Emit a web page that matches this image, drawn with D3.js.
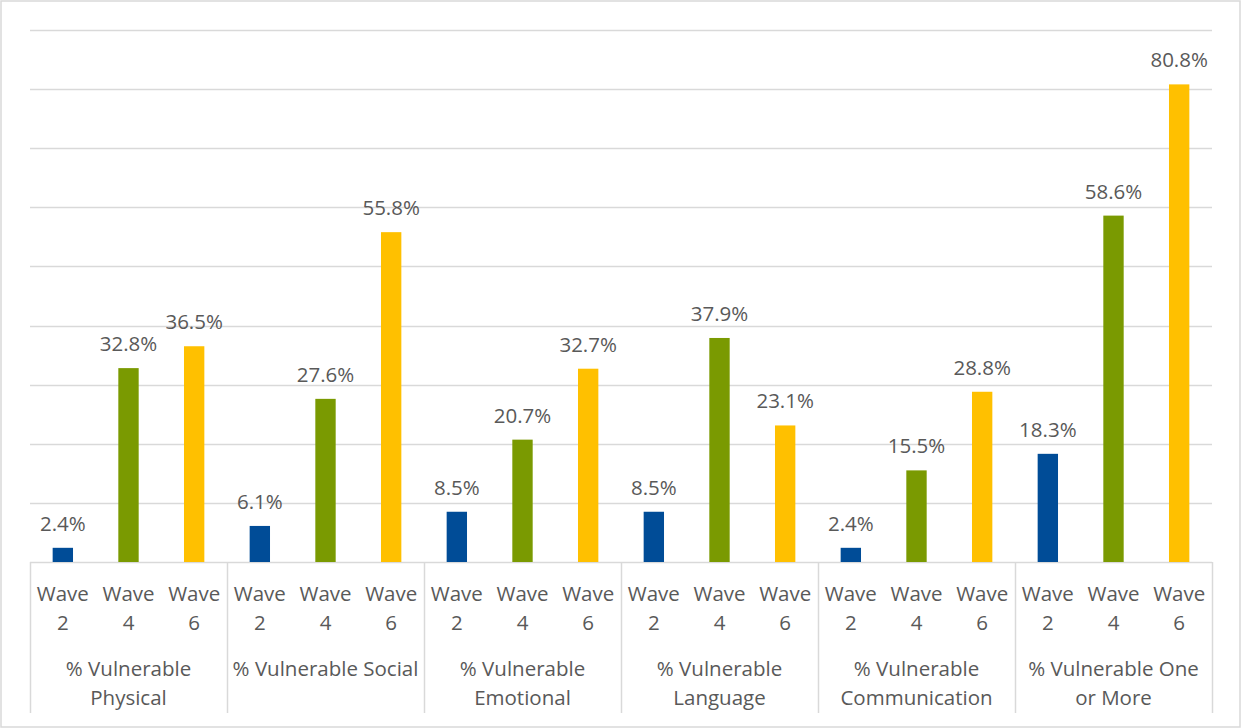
<!DOCTYPE html>
<html>
<head>
<meta charset="utf-8">
<script src="https://cdn.jsdelivr.net/npm/d3@7"></script>
<style>
  body { margin: 0; background: #fff; }
  svg text { font-family: "Open Sans", sans-serif; fill: #595959; }
</style>
</head>
<body>
<div id="chart"></div>
<script>
"use strict";

// chart data
var categories = ["% Vulnerable Physical", "% Vulnerable Social", "% Vulnerable Emotional",
                  "% Vulnerable Language", "% Vulnerable Communication", "% Vulnerable One or More"];
var waves = ["Wave 2", "Wave 4", "Wave 6"];
var wave2 = [2.4, 6.1, 8.5, 8.5, 2.4, 18.3];
var wave4 = [32.8, 27.6, 20.7, 37.9, 15.5, 58.6];
var wave6 = [36.5, 55.8, 32.7, 23.1, 28.8, 80.8];
var gridTicks = [0, 10, 20, 30, 40, 50, 60, 70, 80, 90];
var colors = ["#004C97", "#7A9A01", "#FFC000"];

var W = 1242, H = 728;
var margin = {top: 30, right: 30, bottom: 166, left: 30},
    width = W - margin.left - margin.right,
    height = H - margin.top - margin.bottom;

var svg = d3.select("#chart").append("svg")
    .attr("width", W)
    .attr("height", H);

// outer border
svg.append("rect")
    .attr("x", 1).attr("y", 1)
    .attr("width", W - 3).attr("height", H - 2)
    .attr("fill", "#fff")
    .attr("stroke", "#d9d9d9")
    .attr("stroke-width", 1.5);

var g = svg.append("g")
    .attr("transform", "translate(" + margin.left + "," + margin.top + ")");

var x0 = d3.scaleBand().domain(categories).range([0, width]);
var x1 = d3.scaleBand().domain(waves).range([0, x0.bandwidth()]).paddingInner(0.69).paddingOuter(0.345);
var y = d3.scaleLinear().domain([0, 90]).range([height, 0]);

// gridlines
g.selectAll(".grid")
    .data(gridTicks)
  .enter().append("line")
    .attr("x1", 0).attr("x2", width)
    .attr("y1", function(d) { return Math.round(y(d)) + 0.5; })
    .attr("y2", function(d) { return Math.round(y(d)) + 0.5; })
    .attr("stroke", "#d9d9d9")
    .attr("stroke-width", 1.5);

// separators under axis
var bounds = categories.map(function(c) { return x0(c); }).concat([width]);
g.selectAll(".sep")
    .data(bounds)
  .enter().append("line")
    .attr("x1", function(d) { return Math.round(d) + 0.5; })
    .attr("x2", function(d) { return Math.round(d) + 0.5; })
    .attr("y1", height)
    .attr("y2", height + 151)
    .attr("stroke", "#d9d9d9")
    .attr("stroke-width", 1.5);

var rows = categories.map(function(c, i) {
  return {cat: c, vals: [wave2[i], wave4[i], wave6[i]]};
});

var groups = g.selectAll(".grp")
    .data(rows)
  .enter().append("g")
    .attr("transform", function(d) { return "translate(" + x0(d.cat) + ",0)"; });

var bars = groups.selectAll(".bar")
    .data(function(d) { return d.vals.map(function(v, j) { return {wave: waves[j], v: v, j: j}; }); })
  .enter();

bars.append("rect")
    .attr("x", function(d) { return x1(d.wave); })
    .attr("width", x1.bandwidth())
    .attr("y", function(d) { return y(d.v); })
    .attr("height", function(d) { return height - y(d.v); })
    .attr("fill", function(d) { return colors[d.j]; });

bars.append("text")
    .attr("x", function(d) { return x1(d.wave) + x1.bandwidth() / 2; })
    .attr("y", function(d) { return y(d.v) - 17; })
    .attr("text-anchor", "middle")
    .style("font-size", "20.5px")
    .text(function(d) { return d.v.toFixed(1) + "%"; });

// wave labels (two lines)
groups.selectAll(".wl")
    .data(waves)
  .enter().append("text")
    .attr("x", function(d) { return x1(d) + x1.bandwidth() / 2; })
    .attr("y", height + 39)
    .attr("text-anchor", "middle")
    .style("font-size", "20.5px")
    .each(function(d) {
      var parts = d.split(" ");
      var t = d3.select(this);
      t.append("tspan").attr("x", t.attr("x")).attr("dy", 0).text(parts[0]);
      t.append("tspan").attr("x", t.attr("x")).attr("dy", 29).text(parts[1]);
    });

// category labels
groups.append("text")
    .attr("x", x0.bandwidth() / 2)
    .attr("y", height + 114)
    .attr("dy", 0)
    .attr("text-anchor", "middle")
    .style("font-size", "20.5px")
    .text(function(d) { return d.cat; })
    .call(wrap, x0.bandwidth() - 4);

function wrap(text, w) {
  text.each(function() {
    var text = d3.select(this),
        words = text.text().split(/\s+/).reverse(),
        word,
        line = [],
        lineNumber = 0,
        cx = text.attr("x"),
        yy = text.attr("y"),
        tspan = text.text(null).append("tspan").attr("x", cx).attr("y", yy);
    while (word = words.pop()) {
      line.push(word);
      tspan.text(line.join(" "));
      if (tspan.node().getComputedTextLength() > w && line.length > 1) {
        line.pop();
        tspan.text(line.join(" "));
        line = [word];
        tspan = text.append("tspan").attr("x", cx).attr("y", yy)
          .attr("dy", (++lineNumber * 29) + "px").text(word);
      }
    }
  });
}
</script>
</body>
</html>
